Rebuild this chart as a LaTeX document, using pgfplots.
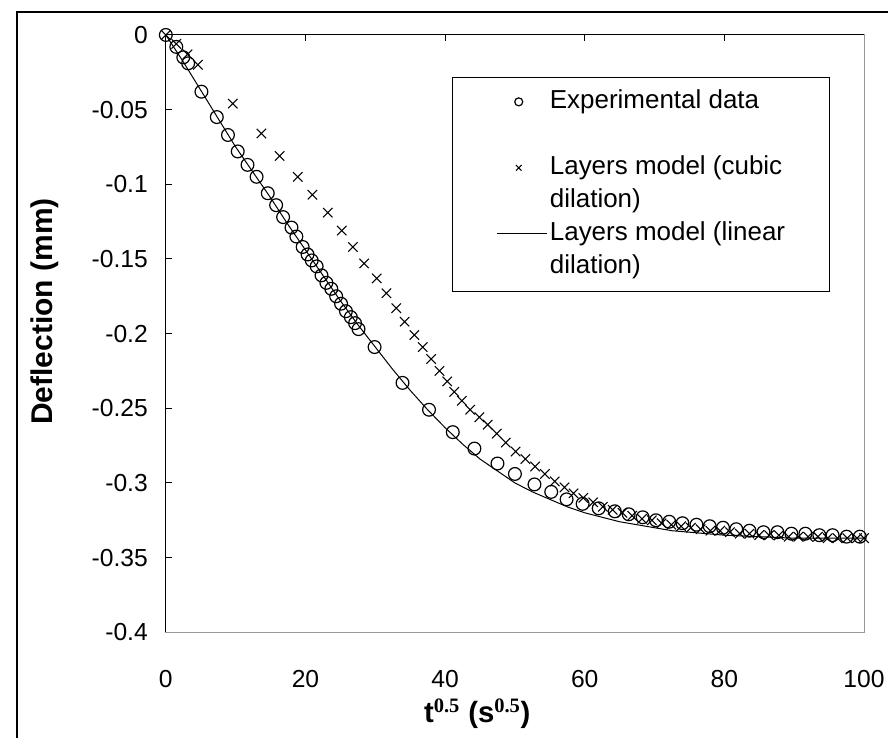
\documentclass[border=0pt]{standalone}
\usepackage{pgfplots}
\pgfplotsset{compat=1.18}
\usepackage{fontspec}
\setmainfont{Liberation Sans}
\newfontfamily\serifb{Liberation Serif}
\pgfplotstableread{
x y
0 0
1.5 -0.008
2.5 -0.015
3.2 -0.019
5.1 -0.038
7.3 -0.055
8.9 -0.067
10.3 -0.078
11.7 -0.087
13.0 -0.095
14.6 -0.106
15.8 -0.114
16.8 -0.122
18.0 -0.129
18.7 -0.135
19.6 -0.142
20.3 -0.147
20.9 -0.151
21.6 -0.155
22.3 -0.161
23.0 -0.166
23.7 -0.170
24.4 -0.175
25.1 -0.180
25.8 -0.185
26.5 -0.189
27.1 -0.193
27.6 -0.197
29.9 -0.209
33.9 -0.233
37.7 -0.251
41.1 -0.266
44.2 -0.277
47.5 -0.287
50.0 -0.294
52.8 -0.301
55.2 -0.306
57.4 -0.311
59.7 -0.314
62.0 -0.317
64.3 -0.319
66.3 -0.321
68.3 -0.323
70.2 -0.325
72.1 -0.326
74.0 -0.327
76.0 -0.328
77.9 -0.329
79.8 -0.330
81.7 -0.331
83.6 -0.332
85.6 -0.333
87.6 -0.333
89.6 -0.334
91.6 -0.334
93.6 -0.335
95.5 -0.335
97.5 -0.336
99.4 -0.336
}\expdata
\pgfplotstableread{
x y
0 0
1.5 -0.006
3.1 -0.013
4.6 -0.020
9.6 -0.046
13.7 -0.066
16.3 -0.081
18.9 -0.095
21.0 -0.107
23.2 -0.119
25.2 -0.131
26.8 -0.142
28.4 -0.153
30.2 -0.163
31.6 -0.173
33.0 -0.183
34.2 -0.192
35.6 -0.201
36.8 -0.209
38.0 -0.217
39.2 -0.225
40.3 -0.232
41.3 -0.239
42.4 -0.245
43.6 -0.251
44.9 -0.256
46.1 -0.261
47.4 -0.267
48.7 -0.273
50.1 -0.279
51.5 -0.284
52.9 -0.289
54.3 -0.294
55.7 -0.299
57.1 -0.303
58.4 -0.307
59.8 -0.310
61.2 -0.313
62.6 -0.316
64.0 -0.318
65.4 -0.320
66.8 -0.322
68.2 -0.324
69.6 -0.325
71.0 -0.327
72.4 -0.328
73.8 -0.329
75.2 -0.330
76.6 -0.331
78.0 -0.332
79.4 -0.332
80.8 -0.333
82.2 -0.334
83.6 -0.334
85.0 -0.335
86.4 -0.335
87.8 -0.335
89.2 -0.336
90.6 -0.336
92.0 -0.336
93.4 -0.336
94.8 -0.337
96.2 -0.337
97.6 -0.337
99.0 -0.337
100 -0.337
}\cubic
\pgfplotstableread{
x y
0 0
2.5 -0.018
5 -0.037
7.5 -0.056
10 -0.075
12.5 -0.092
15 -0.109
17.5 -0.127
20 -0.144
22.5 -0.161
25 -0.178
27.5 -0.194
30 -0.209
32.5 -0.224
35 -0.238
37.5 -0.251
40 -0.263
42.5 -0.274
45 -0.284
47.5 -0.292
50 -0.300
52.5 -0.306
55 -0.311
57.5 -0.316
60 -0.320
62.5 -0.323
65 -0.326
67.5 -0.328
70 -0.330
72.5 -0.332
75 -0.333
77.5 -0.334
80 -0.335
85 -0.336
90 -0.337
95 -0.337
100 -0.337
}\linear
\begin{document}
\begin{tikzpicture}
\begin{axis}[
  width=524.25pt, height=448.5pt, scale only axis,
  xmin=0, xmax=100, ymin=-0.4, ymax=0,
  clip=false,
  axis line style={draw=gray!80, line width=0.75pt},
  xtick={0,20,40,60,80,100},
  xticklabels={0,20,40,60,80,100},
  xtick pos=upper, xticklabel pos=lower,
  ytick={-0.4,-0.35,-0.3,-0.25,-0.2,-0.15,-0.1,-0.05,0},
  yticklabels={-0.4,-0.35,-0.3,-0.25,-0.2,-0.15,-0.1,-0.05,0},
  ytick pos=left,
  tick align=inside,
  major tick length=4.5pt,
  tick style={black, line width=0.75pt},
  scaled ticks=false,
  xticklabel style={font=\fontsize{18.5}{22}\selectfont, yshift=-25pt},
  yticklabel style={font=\fontsize{18.5}{22}\selectfont, xshift=-10pt},
  every axis y label/.style={at={(axis description cs:-0.173,0.537)}, rotate=90, anchor=center, font=\bfseries\fontsize{22.5}{27}\selectfont},
  every axis x label/.style={at={(axis description cs:0.446,-0.137)}, anchor=center, font=\bfseries\fontsize{22}{26}\selectfont},
  ylabel={Deflection (mm)},
  xlabel={t\textsuperscript{\serifb\bfseries 0.5} (s\textsuperscript{\serifb\bfseries 0.5})},
  legend image code/.code={\draw[mark repeat=2,mark phase=2,#1] plot coordinates {(0pt,0pt) (16pt,0pt) (37.5pt,0pt)};},
  legend style={at={(rel axis cs:0.4106,0.9298)}, anchor=north west, draw=black, line width=0.75pt,
    font=\fontsize{19.5}{22}\selectfont, inner xsep=33pt, inner ysep=6pt, row sep=0pt,
    nodes={inner sep=0pt, text height=17.5pt, text depth=7.25pt},
    cells={anchor=west}, column sep=1.5pt},
  legend image post style={mark size=3pt},
]
\path (rel axis cs:-0.2375,-0.1773) rectangle (rel axis cs:1.0343,1.0585);
\draw[black, line width=1pt] (rel axis cs:-0.2132,-0.1773) -- (rel axis cs:-0.2132,1.0385) -- (rel axis cs:1.0343,1.0385);
\addplot[only marks, mark=o, mark size=4.8pt, black, line width=0.9pt] table {\expdata};
\addlegendentry{Experimental data}
\addlegendimage{empty legend}
\addlegendentry{\strut}
\addplot[only marks, mark=x, mark size=5pt, black, line width=0.8pt] table {\cubic};
\addlegendentry{Layers model (cubic}
\addlegendimage{empty legend}
\addlegendentry{dilation)}
\addplot[black, line width=0.75pt, no marks] table {\linear};
\addlegendentry{Layers model (linear}
\addlegendimage{empty legend}
\addlegendentry{dilation)}
\draw[black, line width=0.75pt] (rel axis cs:0,0) -- (rel axis cs:0,1) -- (rel axis cs:1,1);
\end{axis}
\end{tikzpicture}
\end{document}
